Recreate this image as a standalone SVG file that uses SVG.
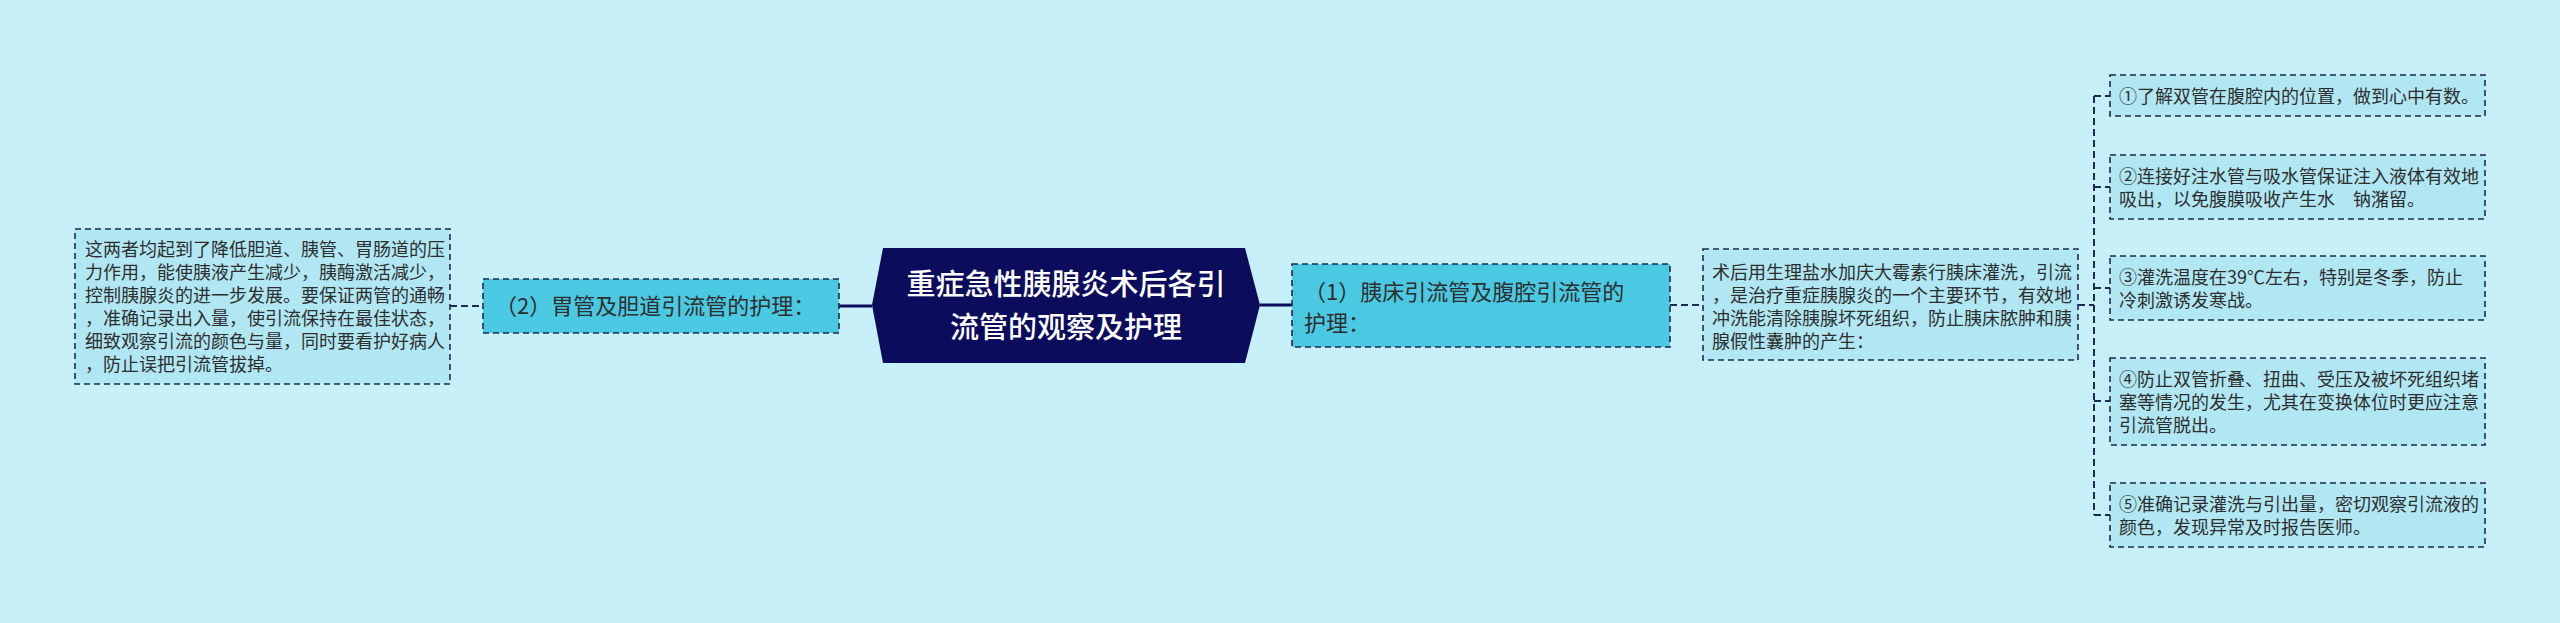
<svg xmlns="http://www.w3.org/2000/svg" width="2560" height="623" viewBox="0 0 2560 623">
<style>
.bg{fill:#c7eff7}
.box{fill:#b0e7f3;stroke:#1c2b4f;stroke-width:1.6;stroke-dasharray:6 4}
.node{fill:#4bc8e2;stroke:#1c2b4f;stroke-width:1.6;stroke-dasharray:6 4}
.root{fill:#0b0c5c}
.t{font-family:"Noto Sans CJK SC","Noto Sans",sans-serif;font-size:18px;fill:#2e2e2e}
.tn{font-family:"Noto Sans CJK SC","Noto Sans",sans-serif;font-size:22px;fill:#2e2e2e}
.tr{font-family:"Noto Sans CJK SC","Noto Sans",sans-serif;font-size:29px;font-weight:500;fill:#ffffff;text-anchor:middle}
.c{fill:none;stroke:#1c2b4f;stroke-width:2;stroke-dasharray:7 4}
.cs{fill:none;stroke:#0b0c5c;stroke-width:3}
</style>
<rect class="bg" x="0" y="0" width="2560" height="623"/>
<g id="connectors">
<line class="c" x1="450" y1="306" x2="483" y2="306"/>
<line class="cs" x1="839" y1="306" x2="872" y2="306"/>
<line class="cs" x1="1260" y1="305" x2="1292" y2="305"/>
<line class="c" x1="1670" y1="305" x2="1703" y2="305"/>
<line class="c" x1="2078" y1="305" x2="2094" y2="305"/>
<line class="c" x1="2094" y1="96" x2="2094" y2="515"/>
<line class="c" x1="2094" y1="96" x2="2110" y2="96"/>
<line class="c" x1="2094" y1="187" x2="2110" y2="187"/>
<line class="c" x1="2094" y1="288" x2="2110" y2="288"/>
<line class="c" x1="2094" y1="401" x2="2110" y2="401"/>
<line class="c" x1="2094" y1="515" x2="2110" y2="515"/>
</g>
<g id="root">
<polygon class="root" points="883,248 1245,248 1260,305 1245,363 883,363 872,305"/>
<text class="tr" x="1066" y="295">重症急性胰腺炎术后各引</text>
<text class="tr" x="1066" y="338">流管的观察及护理</text>
</g>
<g id="node2">
<rect class="node" x="483" y="279" width="356" height="54"/>
<text class="tn" x="495" y="314">（2）胃管及胆道引流管的护理：</text>
</g>
<g id="leftbox">
<rect class="box" x="75" y="229" width="375" height="155"/>
<text class="t" x="85" y="256">这两者均起到了降低胆道、胰管、胃肠道的压</text>
<text class="t" x="85" y="279">力作用，能使胰液产生减少，胰酶激活减少，</text>
<text class="t" x="85" y="302">控制胰腺炎的进一步发展。要保证两管的通畅</text>
<text class="t" x="85" y="325">，准确记录出入量，使引流保持在最佳状态，</text>
<text class="t" x="85" y="348">细致观察引流的颜色与量，同时要看护好病人</text>
<text class="t" x="85" y="371">，防止误把引流管拔掉。</text>
</g>
<g id="node1">
<rect class="node" x="1292" y="264" width="378" height="83"/>
<text class="tn" x="1304" y="300">（1）胰床引流管及腹腔引流管的</text>
<text class="tn" x="1304" y="331">护理：</text>
</g>
<g id="midbox">
<rect class="box" x="1703" y="249" width="375" height="111"/>
<text class="t" x="1712" y="279">术后用生理盐水加庆大霉素行胰床灌洗，引流</text>
<text class="t" x="1712" y="302">，是治疗重症胰腺炎的一个主要环节，有效地</text>
<text class="t" x="1712" y="325">冲洗能清除胰腺坏死组织，防止胰床脓肿和胰</text>
<text class="t" x="1712" y="348">腺假性囊肿的产生：</text>
</g>
<g id="item1">
<rect class="box" x="2110" y="75" width="375" height="41"/>
<text class="t" x="2119" y="103">①了解双管在腹腔内的位置，做到心中有数。</text>
</g>
<g id="item2">
<rect class="box" x="2110" y="155" width="375" height="64"/>
<text class="t" x="2119" y="183">②连接好注水管与吸水管保证注入液体有效地</text>
<text class="t" x="2119" y="206">吸出，以免腹膜吸收产生水　钠潴留。</text>
</g>
<g id="item3">
<rect class="box" x="2110" y="256" width="375" height="64"/>
<text class="t" x="2119" y="284">③灌洗温度在39℃左右，特别是冬季，防止</text>
<text class="t" x="2119" y="307">冷刺激诱发寒战。</text>
</g>
<g id="item4">
<rect class="box" x="2110" y="358" width="375" height="87"/>
<text class="t" x="2119" y="386">④防止双管折叠、扭曲、受压及被坏死组织堵</text>
<text class="t" x="2119" y="409">塞等情况的发生，尤其在变换体位时更应注意</text>
<text class="t" x="2119" y="432">引流管脱出。</text>
</g>
<g id="item5">
<rect class="box" x="2110" y="483" width="375" height="64"/>
<text class="t" x="2119" y="511">⑤准确记录灌洗与引出量，密切观察引流液的</text>
<text class="t" x="2119" y="534">颜色，发现异常及时报告医师。</text>
</g>
</svg>
